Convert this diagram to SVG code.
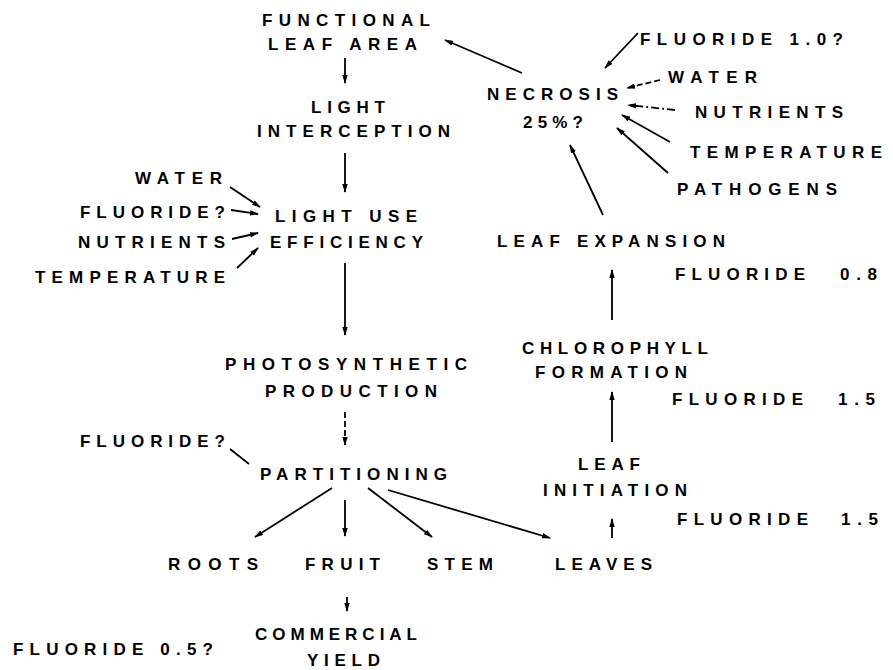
<svg xmlns="http://www.w3.org/2000/svg" width="893" height="670" viewBox="0 0 893 670">
<style>
text{font-family:"Liberation Sans",Arial,sans-serif;font-weight:bold;font-size:17px;fill:#000}
.c line{stroke:#000;stroke-width:1.8;fill:none}
.a{marker-end:url(#ah)}
.d{stroke-dasharray:6 3}
.dd{stroke-dasharray:8 3 2 3}
</style>
<defs>
<marker id="ah" viewBox="0 0 10 6" refX="9" refY="3" markerWidth="9" markerHeight="5.5" orient="auto" markerUnits="userSpaceOnUse"><path d="M0,0 L10,3 L0,6 z" fill="#000"/></marker>
</defs>
<rect width="893" height="670" fill="#fff"/>
<g id="functional-leaf-area"><text x="262" y="26" textLength="168" lengthAdjust="spacing">FUNCTIONAL</text><text x="268" y="50" textLength="149" lengthAdjust="spacing">LEAF AREA</text></g>
<g id="light-interception"><text x="311" y="113" textLength="74" lengthAdjust="spacing">LIGHT</text><text x="257" y="137" textLength="193" lengthAdjust="spacing">INTERCEPTION</text></g>
<g id="water-left"><text x="135" y="184" textLength="87" lengthAdjust="spacing">WATER</text></g>
<g id="fluoride-lue"><text x="80" y="218" textLength="145" lengthAdjust="spacing">FLUORIDE?</text></g>
<g id="nutrients-left"><text x="78" y="248" textLength="147" lengthAdjust="spacing">NUTRIENTS</text></g>
<g id="temperature-left"><text x="35" y="283" textLength="190" lengthAdjust="spacing">TEMPERATURE</text></g>
<g id="light-use-efficiency"><text x="275" y="222" textLength="142" lengthAdjust="spacing">LIGHT USE</text><text x="270" y="248" textLength="153" lengthAdjust="spacing">EFFICIENCY</text></g>
<g id="photosynthetic-production"><text x="225" y="370" textLength="242" lengthAdjust="spacing">PHOTOSYNTHETIC</text><text x="265" y="397" textLength="172" lengthAdjust="spacing">PRODUCTION</text></g>
<g id="fluoride-partitioning"><text x="80" y="447" textLength="145" lengthAdjust="spacing">FLUORIDE?</text></g>
<g id="partitioning"><text x="260" y="480" textLength="187" lengthAdjust="spacing">PARTITIONING</text></g>
<g id="roots"><text x="168" y="570" textLength="90" lengthAdjust="spacing">ROOTS</text></g>
<g id="fruit"><text x="305" y="570" textLength="75" lengthAdjust="spacing">FRUIT</text></g>
<g id="stem"><text x="427" y="570" textLength="66" lengthAdjust="spacing">STEM</text></g>
<g id="leaves"><text x="555" y="570" textLength="97" lengthAdjust="spacing">LEAVES</text></g>
<g id="commercial-yield"><text x="255" y="640" textLength="162" lengthAdjust="spacing">COMMERCIAL</text><text x="307" y="666" textLength="73" lengthAdjust="spacing">YIELD</text></g>
<g id="fluoride-yield"><text x="13" y="655" textLength="200" lengthAdjust="spacing">FLUORIDE 0.5?</text></g>
<g id="fluoride-necrosis"><text x="640" y="45" textLength="203" lengthAdjust="spacing">FLUORIDE 1.0?</text></g>
<g id="water-right"><text x="668" y="83" textLength="89" lengthAdjust="spacing">WATER</text></g>
<g id="necrosis"><text x="487" y="100" textLength="131" lengthAdjust="spacing">NECROSIS</text><text x="523" y="128" textLength="60" lengthAdjust="spacing">25%?</text></g>
<g id="nutrients-right"><text x="695" y="118" textLength="148" lengthAdjust="spacing">NUTRIENTS</text></g>
<g id="temperature-right"><text x="690" y="158" textLength="192" lengthAdjust="spacing">TEMPERATURE</text></g>
<g id="pathogens"><text x="677" y="195" textLength="160" lengthAdjust="spacing">PATHOGENS</text></g>
<g id="leaf-expansion"><text x="497" y="247" textLength="228" lengthAdjust="spacing">LEAF EXPANSION</text></g>
<g id="fluoride-expansion"><text y="280"><tspan x="675" textLength="130" lengthAdjust="spacing">FLUORIDE</tspan> <tspan x="840" textLength="37" lengthAdjust="spacing">0.8</tspan></text></g>
<g id="chlorophyll-formation"><text x="522" y="354" textLength="186" lengthAdjust="spacing">CHLOROPHYLL</text><text x="535" y="378" textLength="152" lengthAdjust="spacing">FORMATION</text></g>
<g id="fluoride-chlorophyll"><text y="405"><tspan x="672" textLength="131" lengthAdjust="spacing">FLUORIDE</tspan> <tspan x="838" textLength="37" lengthAdjust="spacing">1.5</tspan></text></g>
<g id="leaf-initiation"><text x="578" y="470" textLength="62" lengthAdjust="spacing">LEAF</text><text x="543" y="496" textLength="144" lengthAdjust="spacing">INITIATION</text></g>
<g id="fluoride-initiation"><text y="525"><tspan x="677" textLength="131" lengthAdjust="spacing">FLUORIDE</tspan> <tspan x="841" textLength="37" lengthAdjust="spacing">1.5</tspan></text></g>
<g id="connectors" class="c">
<line class="a" x1="345" y1="58" x2="345" y2="83"/>
<line class="a" x1="345" y1="153" x2="345" y2="192"/>
<line class="a" x1="230" y1="187" x2="260" y2="207"/>
<line class="a" x1="231" y1="210" x2="258" y2="214"/>
<line class="a" x1="232" y1="239" x2="258" y2="233"/>
<line class="a" x1="237" y1="268" x2="258" y2="248"/>
<line class="a" x1="345" y1="263" x2="345" y2="335"/>
<line class="a d" x1="345" y1="412" x2="345" y2="445"/>
<line x1="230" y1="449" x2="249" y2="464"/>
<line class="a" x1="332" y1="488" x2="255" y2="537"/>
<line class="a" x1="345" y1="500" x2="345" y2="536"/>
<line class="a" x1="368" y1="488" x2="432" y2="537"/>
<line class="a" x1="388" y1="490" x2="550" y2="538"/>
<line class="a" x1="347" y1="597" x2="347" y2="611"/>
<line class="a" x1="612" y1="538" x2="612" y2="519"/>
<line class="a" x1="612" y1="442" x2="612" y2="392"/>
<line class="a" x1="612" y1="320" x2="612" y2="270"/>
<line class="a" x1="603" y1="215" x2="570" y2="145"/>
<line class="a" x1="522" y1="73" x2="445" y2="40"/>
<line class="a" x1="638" y1="33" x2="605" y2="68"/>
<line class="a d" x1="660" y1="80" x2="627" y2="88"/>
<line class="a dd" x1="675" y1="110" x2="628" y2="105"/>
<line class="a" x1="670" y1="142" x2="622" y2="115"/>
<line class="a" x1="668" y1="173" x2="617" y2="128"/>
</g>
</svg>
